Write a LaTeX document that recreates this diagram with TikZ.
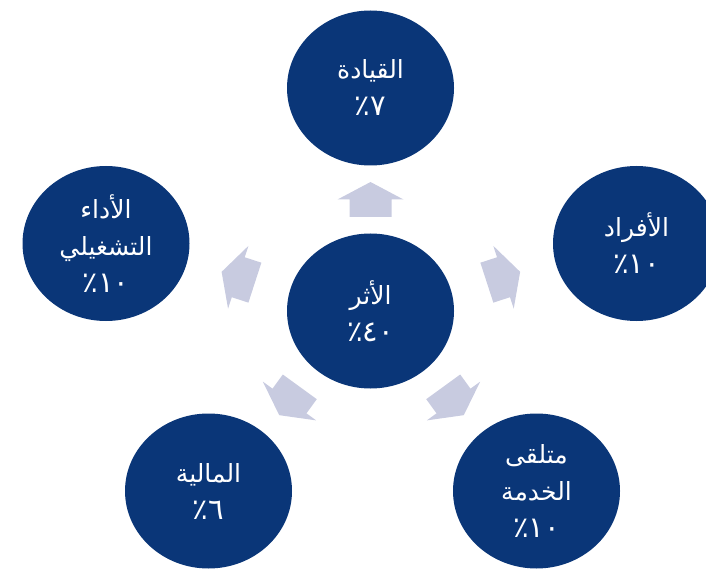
\documentclass[tikz,border=0pt]{standalone}
\usepackage{fontspec}
\newfontfamily\arabicfont[Script=Arabic]{DejaVu Sans}
\TeXXeTstate=1
\usetikzlibrary{calc,shapes.geometric}
\definecolor{circleblue}{RGB}{10,54,120}
\definecolor{arrowfill}{RGB}{200,203,224}
% percentage line, set a little larger than the labels
\newcommand\pct[1]{{\fontsize{29}{37}\selectfont\beginR #1\endR}}
\begin{document}
\begin{tikzpicture}[x=1pt,y=1pt,
  topic/.style={ellipse, fill=circleblue, minimum width=167pt, minimum height=155pt,
    inner sep=0pt, text=white, align=center,
    font=\arabicfont\fontsize{25}{37}\selectfont},
  flowarrow/.pic={\fill[arrowfill] (17.5,0) -- (0,33) -- (0,21) -- (-17.5,21)
    -- (-17.5,-21) -- (0,-21) -- (0,-33) -- cycle;}]
\useasboundingbox (0,0) rectangle (706,571);
\clip (0,0) rectangle (706,571);

% centre and the five surrounding factors
\node[topic] (impact) at (370.5,260) {\beginR الأثر\endR\\\pct{٤٠٪}};
\node[topic] (lead)   at (370.5,483) {\beginR القيادة\endR\\\pct{٧٪}};
\node[topic] (people) at (636.5,327.5) {\beginR الأفراد\endR\\\pct{١٠٪}};
\node[topic] (ops)    at (106,327.5) {\beginR الأداء\endR\\\beginR التشغيلي\endR\\\pct{١٠٪}};
\node[topic] (fin)    at (208.5,80) {\beginR المالية\endR\\\pct{٦٪}};
\node[topic] (client) at (536.5,80) {\beginR متلقى\endR\\\beginR الخدمة\endR\\\pct{١٠٪}};

% block arrows half-way between the centre and each factor
\pic[rotate=90]   at ($(impact)!0.5!(lead)$)   {flowarrow};
\pic[rotate=18]   at ($(impact)!0.5!(people)$) {flowarrow};
\pic[rotate=162]  at ($(impact)!0.5!(ops)$)    {flowarrow};
\pic[rotate=-126] at ($(impact)!0.5!(fin)$)    {flowarrow};
\pic[rotate=-54]  at ($(impact)!0.5!(client)$) {flowarrow};
\end{tikzpicture}
\end{document}
